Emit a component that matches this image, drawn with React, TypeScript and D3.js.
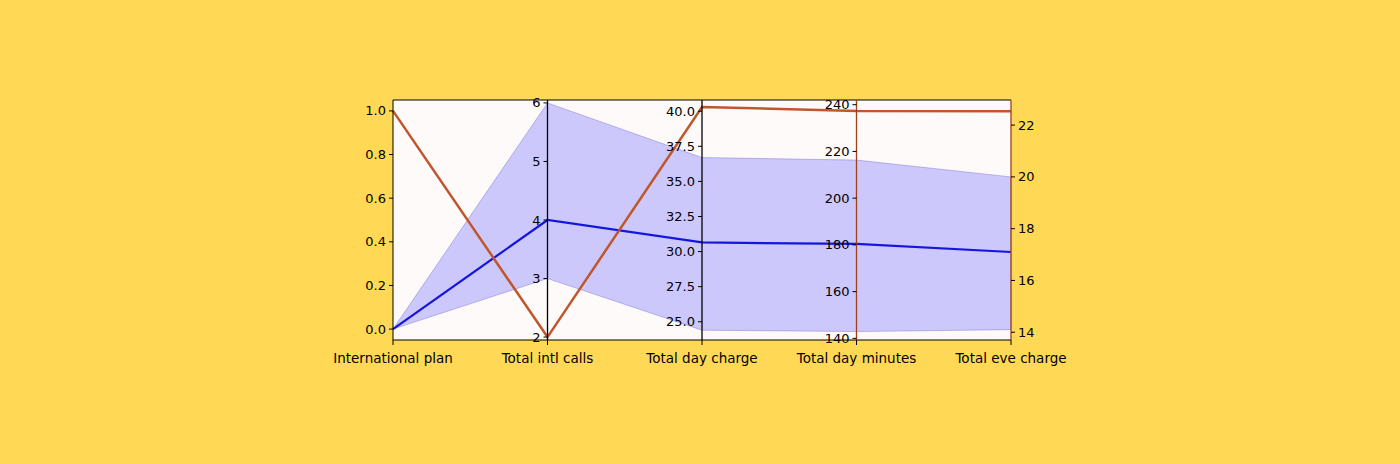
import * as d3 from 'd3';
import React from "react";

const dims = ["International plan", "Total intl calls", "Total day charge", "Total day minutes", "Total eve charge"];
const domains: [number, number][] = [[-0.05, 1.05], [1.95, 6.05], [23.7, 40.8], [139.3, 242], [13.7, 22.97]];
const tickVals = [
    [0, 0.2, 0.4, 0.6, 0.8, 1.0],
    [2, 3, 4, 5, 6],
    [25, 27.5, 30, 32.5, 35, 37.5, 40],
    [140, 160, 180, 200, 220, 240],
    [14, 16, 18, 20, 22],
];
const tickFmt = [d3.format(".1f"), d3.format("d"), d3.format(".1f"), d3.format("d"), d3.format("d")];
const meanVals = [0, 4, 30.65, 180.4, 17.1];
const upperVals = [0, 6, 36.7, 216.3, 20.0];
const lowerVals = [0, 3, 24.4, 142.9, 14.1];
const churnVals = [1, 2, 40.3, 237.3, 22.54];

const WIDTH = 1400;
const HEIGHT = 464;
const TOP = 100;
const BOTTOM = 340;

export default function App() {
    const x = d3.scalePoint<number>().domain(d3.range(dims.length)).range([393, 1011]);
    const ys = domains.map(dm => d3.scaleLinear().domain(dm).range([BOTTOM, TOP]));
    const pt = (vals: number[]) => vals.map((v, i) => [x(i)!, ys[i](v)] as [number, number]);
    const line = d3.line();
    const band = d3.area<number>()
        .x((_, i) => x(i)!)
        .y0((_, i) => ys[i](lowerVals[i]))
        .y1((_, i) => ys[i](upperVals[i]));
    const font = "DejaVu Sans, sans-serif";

    return (
        <svg width={WIDTH} height={HEIGHT} style={{position: "absolute", left: 0, top: 0}}>
            <rect width={WIDTH} height={HEIGHT} fill="#ffd955"/>
            <rect x={393} y={TOP} width={618} height={BOTTOM - TOP} fill="#fffafa"/>
            <path d={band(meanVals) || ""} fill="rgba(0,0,255,0.2)" stroke="rgba(60,60,200,0.3)" strokeWidth={1}/>
            <path d={line(pt(meanVals)) || ""} fill="none" stroke="#1515e0" strokeWidth={2.2}/>
            <path d={line(pt(churnVals)) || ""} fill="none" stroke="#c0562c" strokeWidth={2.5}/>
            <line x1={393} x2={1011} y1={TOP} y2={TOP} stroke="#000" strokeWidth={1}/>
            <line x1={393} x2={1011} y1={BOTTOM} y2={BOTTOM} stroke="#000" strokeWidth={1}/>
            {dims.map((d, i) => {
                const xi = x(i)!;
                const right = i === dims.length - 1;
                const col = i >= 3 ? "#a0401a" : "#000";
                return (
                    <g key={d}>
                        <line x1={xi} x2={xi} y1={TOP} y2={BOTTOM} stroke={col} strokeWidth={i === 0 ? 1 : 1.3}/>
                        <line x1={xi} x2={xi} y1={BOTTOM} y2={BOTTOM + 5} stroke="#000"/>
                        {tickVals[i].map(t => {
                            const yy = ys[i](t);
                            return (
                                <g key={t}>
                                    <line x1={xi} x2={right ? xi + 4 : xi - 4} y1={yy} y2={yy} stroke="#000"/>
                                    <text x={right ? xi + 7 : xi - 7} y={yy} dy="0.35em" fontSize={13} fontFamily={font}
                                          textAnchor={right ? "start" : "end"} fill="#000">{tickFmt[i](t)}</text>
                                </g>
                            );
                        })}
                        <text x={xi} y={363} fontSize={13.5} fontFamily={font} textAnchor="middle" fill="#000">{d}</text>
                    </g>
                );
            })}
        </svg>
    );
}
